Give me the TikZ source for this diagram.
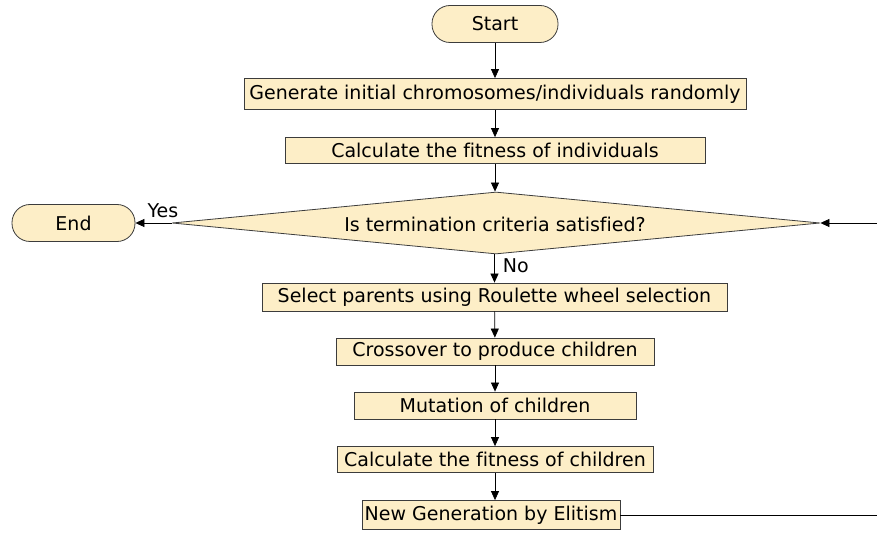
\documentclass[tikz,border=0pt]{standalone}
\usepackage{fontspec}
\setmainfont[Ligatures=NoCommon]{DejaVu Sans}
\usetikzlibrary{shapes.geometric,arrows.meta}
\definecolor{boxfill}{RGB}{253,238,199}
\definecolor{boxline}{RGB}{60,60,60}
\begin{document}
\begin{tikzpicture}[x=1pt,y=-1pt,
  every node/.style={font=\fontsize{19}{22}\selectfont},
  terminal/.style={draw=boxline,fill=boxfill,line width=0.8pt,rounded corners=18pt,
    minimum height=37pt,inner sep=0pt},
  stepbox/.style={draw=boxline,fill=boxfill,line width=0.8pt,inner sep=0pt},
  decision/.style={draw=boxline,fill=boxfill,line width=0.8pt,diamond,aspect=10.45,
    inner sep=0pt,minimum width=648pt,minimum height=62pt},
  flow/.style={line width=0.7pt,-{Triangle[length=9pt,width=8pt]}},
  plain/.style={line width=0.7pt},
  lbl/.style={inner sep=0pt}]
\useasboundingbox (0,0) rectangle (877,534);
\node[terminal,minimum width=126pt] (start) at (495,24) {Start};
\node[stepbox,minimum width=502pt,minimum height=31pt] (init) at (495,94) {Generate initial chromosomes/individuals randomly};
\node[stepbox,minimum width=420pt,minimum height=26pt] (fit) at (495,150.5) {Calculate the fitness of individuals};
\node[decision] (term) at (496,223) {};
\node at (495,224) {Is termination criteria satisfied?};
\node[terminal,minimum width=123pt] (end) at (73.5,223) {End};
\node[stepbox,minimum width=465pt,minimum height=28pt] (sel) at (494.5,297) {Select parents using Roulette wheel selection};
\node[stepbox,minimum width=318pt,minimum height=27pt] (cross) at (495,351.5) {Crossover to produce children};
\node[stepbox,minimum width=282pt,minimum height=27pt] (mut) at (495,405.5) {Mutation of children};
\node[stepbox,minimum width=316pt,minimum height=26pt] (fitc) at (495,459.5) {Calculate the fitness of children};
\node[stepbox,minimum width=258pt,minimum height=29pt] (elite) at (491,515) {New Generation by Elitism};

\coordinate (loopA) at (880,515);
\coordinate (loopB) at (880,223);

\draw[flow] (start) -- (init);
\draw[flow] (init) -- (fit);
\draw[flow] (fit.south) -- (fit.south |- term.north);
\draw[flow] (term.west) -- (end.east) node[lbl,pos=0.24,anchor=base,yshift=5pt] {Yes};
\draw[flow] (term.south -| sel.north) -- (sel.north) node[lbl,pos=0.655,anchor=base west,xshift=8pt] {No};
\draw[flow] (sel) -- (cross);
\draw[flow] (cross) -- (mut);
\draw[flow] (mut) -- (fitc);
\draw[flow] (fitc.south) -- (fitc.south |- elite.north);
\draw[plain] (elite.east) -- (loopA) -- (loopB);
\draw[flow] (loopB) -- (term.east);
\end{tikzpicture}
\end{document}
